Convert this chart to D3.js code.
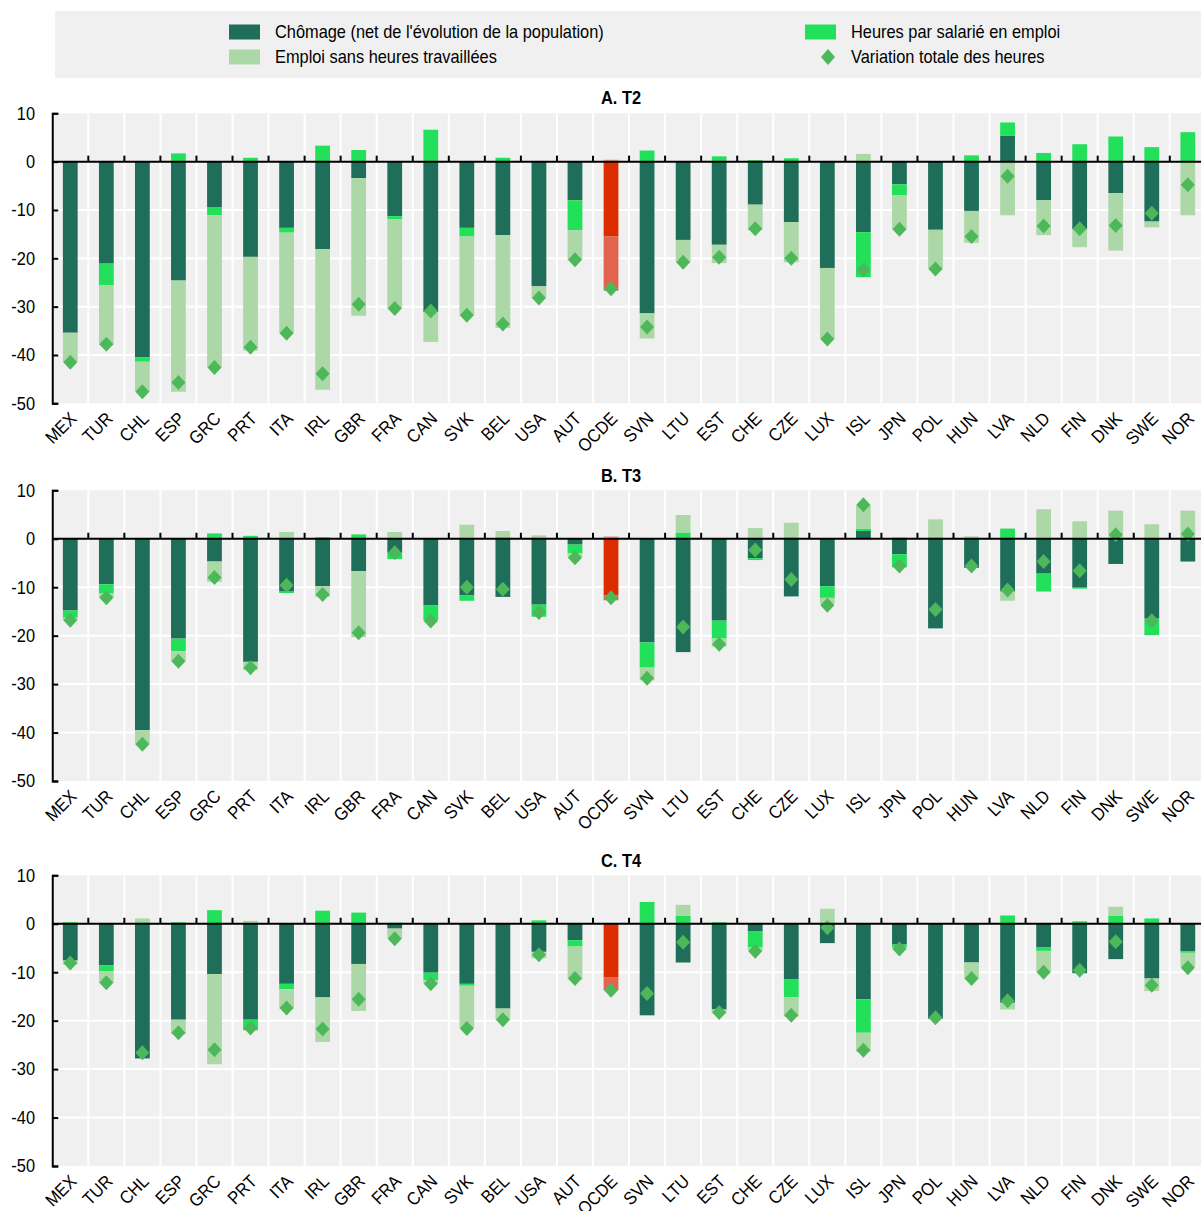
<!DOCTYPE html>
<html lang="fr">
<head>
<meta charset="utf-8">
<script src="https://cdn.jsdelivr.net/npm/d3@7"></script>
<style>
  html, body { margin: 0; padding: 0; background: #ffffff; }
  svg { display: block; }
  text { font-family: "Liberation Sans Narrow", "Arial Narrow", "Liberation Sans", sans-serif; fill: #000; }
</style>
</head>
<body>
<svg id="chart" width="1201" height="1211"></svg>
<script>
// Pays (même ordre dans les trois panneaux)
const countries = ["MEX","TUR","CHL","ESP","GRC","PRT","ITA","IRL","GBR","FRA","CAN","SVK","BEL","USA","AUT","OCDE",
                   "SVN","LTU","EST","CHE","CZE","LUX","ISL","JPN","POL","HUN","LVA","NLD","FIN","DNK","SWE","NOR"];

const seriesNames = ["Chômage (net de l'évolution de la population)", "Heures par salarié en emploi",
                     "Emploi sans heures travaillées", "Variation totale des heures"];
const panelTitles = ["A. T2", "B. T3", "C. T4"];
const yTicks = [10, 0, -10, -20, -30, -40, -50];

// A. T2
const chomageT2 = [-35.4,-21.1,-40.5,-24.6,-9.5,-19.7,-13.7,-18.1,-3.4,-11.3,-31.1,-13.7,-15.2,-25.8,-8.0,-15.5,
                   -31.4,-16.2,-17.2,-8.9,-12.5,-22.0,-14.6,-4.7,-14.1,-10.2,5.4,-8.0,-14.0,-6.5,-12.4,0];
const heuresT2  = [0,-4.5,-0.9,1.7,-1.6,0.8,-1.0,3.3,2.4,-0.6,6.6,-1.8,0.8,0,-6.2,0.4,
                   2.3,0,1.1,0.3,0.7,0,-9.3,-2.3,0,1.3,2.7,1.8,3.6,5.2,3.0,6.1];
const emploiT2  = [-6.1,-12.4,-6.3,-23.0,-31.5,-19.4,-20.8,-29.1,-28.5,-18.5,-6.2,-16.3,-19.2,-2.4,-6.1,-11.2,
                   -5.2,-4.6,-3.8,-5.3,-8.3,-14.7,1.6,-7.0,-8.1,-6.6,-11.1,-7.2,-3.7,-11.9,-1.2,-11.1];
const totalT2   = [-41.5,-37.8,-47.6,-45.7,-42.6,-38.4,-35.5,-43.9,-29.5,-30.4,-30.9,-31.8,-33.6,-28.2,-20.3,-26.3,
                   -34.2,-20.8,-19.8,-13.9,-20.0,-36.7,-22.4,-14.0,-22.2,-15.5,-3.0,-13.3,-13.9,-13.2,-10.7,-4.8];

// B. T3
const chomageT3 = [-14.8,-9.4,-39.5,-20.6,-4.7,-25.4,-10.9,-9.8,-6.7,-2.9,-13.7,-11.7,-12.0,-13.6,-1.2,-11.7,
                   -21.4,-23.4,-16.9,-4.0,-11.9,-9.8,1.6,-3.2,-18.5,-6.0,-10.9,-7.2,-10.1,-5.2,-16.5,-4.7];
const heuresT3  = [-1.5,-1.8,0,-2.6,1.1,0.6,-0.3,0.3,0.9,-1.3,-3.1,-1.1,0.3,-2.5,-1.8,0.5,
                   -5.2,1.3,-3.7,-0.4,0.3,-2.4,0.5,-2.7,0.3,0,2.1,-3.7,-0.2,0,-3.4,0];
const emploiT3  = [-0.5,-1.0,-2.9,-2.1,-4.2,-1.7,1.4,-2.2,-13.6,1.4,-0.2,2.9,1.3,0.7,-0.8,-1.0,
                   -2.6,3.6,-1.7,2.2,3.0,-1.2,4.8,0.3,3.7,0.5,-1.9,6.1,3.6,5.8,3.0,5.8];
const totalT3   = [-16.8,-12.2,-42.4,-25.3,-8.0,-26.6,-9.6,-11.5,-19.4,-2.9,-17.0,-10.0,-10.4,-15.2,-3.9,-12.2,
                   -28.8,-18.2,-21.8,-2.3,-8.4,-13.7,7.0,-5.6,-14.6,-5.6,-10.6,-4.7,-6.6,0.8,-16.9,1.0];

// C. T4
const chomageT4 = [-7.6,-8.6,-27.8,-19.8,-10.4,-19.8,-12.4,-15.2,-8.3,-1.0,-10.1,-12.4,-17.5,-5.8,-3.4,-11.0,
                   -18.9,-8.0,-17.7,-1.6,-11.5,-4.0,-15.6,-4.3,-19.6,-8.0,-16.3,-4.9,-10.2,-7.3,-11.3,-5.7];
const heuresT4  = [0.3,-1.2,0.3,0.3,2.8,-2.2,-1.1,2.7,2.3,0.2,-1.6,-0.4,0,0.7,-1.3,0.1,
                   4.5,1.7,0.3,-3.2,-3.7,0,-6.9,-0.5,0,0,1.7,-0.7,0.5,1.7,1.1,-0.3];
const emploiT4  = [-0.8,-2.4,0.8,-3.0,-18.6,0.6,-4.0,-9.2,-9.7,-2.0,-0.7,-8.8,-2.4,-1.3,-6.8,-2.7,
                   0,2.2,-0.8,-0.7,-4.0,3.1,-3.9,-0.4,0,-3.3,-1.4,-4.4,0,1.8,-2.6,-2.9];
const totalT4   = [-8.1,-12.2,-26.6,-22.5,-26.0,-21.5,-17.4,-21.7,-15.6,-3.1,-12.4,-21.6,-19.8,-6.4,-11.3,-13.7,
                   -14.4,-3.8,-18.3,-5.7,-18.9,-0.8,-26.1,-5.2,-19.4,-11.3,-15.9,-10.0,-9.6,-3.7,-12.7,-9.1];

const panels = [
  { title: panelTitles[0], chomage: chomageT2, heures: heuresT2, emploi: emploiT2, total: totalT2, top: 113.3, bottom: 403.3, titleY: 104 },
  { title: panelTitles[1], chomage: chomageT3, heures: heuresT3, emploi: emploiT3, total: totalT3, top: 490.3, bottom: 781,   titleY: 482 },
  { title: panelTitles[2], chomage: chomageT4, heures: heuresT4, emploi: emploiT4, total: totalT4, top: 875.3, bottom: 1166,  titleY: 867 }
];

const keys = ["chomage", "heures", "emploi"];
const colors = { chomage: "#1f6e5a", heures: "#22e05a", emploi: "#acd8a8" };
const colorsOECD = { chomage: "#dc2d00", heures: "#f2a28c", emploi: "#e2644e" };
const diamondColor = "#4cb85a";
const bgColor = "#f0f0f0";
const NARROW = 0.91;   // condensed look for all labels

const svg = d3.select("#chart");

// Helper: horizontally condensed text placed at (x, y)
function narrowText(parent, x, y, str, opts = {}) {
  const g = parent.append("g").attr("transform", `translate(${x},${y})${opts.rotate ? ` rotate(${opts.rotate})` : ""} scale(${NARROW},1)`);
  const t = g.append("text").attr("font-size", opts.size || 18).text(str);
  if (opts.anchor) t.attr("text-anchor", opts.anchor);
  if (opts.dy) t.attr("dy", opts.dy);
  if (opts.bold) t.attr("font-weight", "bold");
  return t;
}

// Légende
const legend = svg.append("g");
legend.append("rect").attr("x", 55).attr("y", 11).attr("width", 1146).attr("height", 67).attr("fill", bgColor);
const legendItems = [
  { label: seriesNames[0], x: 229, y: 32, type: "rect", color: colors.chomage },
  { label: seriesNames[2], x: 229, y: 57, type: "rect", color: colors.emploi },
  { label: seriesNames[1], x: 805, y: 32, type: "rect", color: colors.heures },
  { label: seriesNames[3], x: 805, y: 57, type: "diamond", color: diamondColor }
];
legendItems.forEach(it => {
  if (it.type === "rect") {
    legend.append("rect").attr("x", it.x).attr("y", it.y - 7.5).attr("width", 31).attr("height", 15).attr("fill", it.color);
  } else {
    legend.append("path")
      .attr("d", "M0,-8L7,0L0,8L-7,0Z")
      .attr("transform", `translate(${it.x + 23},${it.y})`)
      .attr("fill", it.color);
  }
  narrowText(legend, it.x + 46, it.y, it.label, { dy: "0.35em" });
});

const x = d3.scaleBand().domain(countries).range([52.25, 52.25 + 32 * 36.05]).paddingInner(0).paddingOuter(0);
const barW = x.bandwidth() * 0.41;

const stack = d3.stack().keys(keys).offset(d3.stackOffsetDiverging).order(d3.stackOrderNone);

panels.forEach(p => {
  const g = svg.append("g");
  const y = d3.scaleLinear().domain([-50, 10]).range([p.bottom, p.top]);
  const rows = countries.map((c, i) => ({ country: c, chomage: p.chomage[i], heures: p.heures[i], emploi: p.emploi[i], total: p.total[i] }));
  const stacked = stack(rows);
  const [x0, x1] = x.range();

  // Fond et grille
  g.append("rect").attr("x", x0).attr("y", y(10)).attr("width", x1 - x0).attr("height", y(-50) - y(10)).attr("fill", bgColor);
  g.selectAll("line.hgrid").data(yTicks.filter(t => t !== 0 && t !== 10 && t !== -50)).join("line")
    .attr("x1", x0).attr("x2", x1).attr("y1", d => y(d)).attr("y2", d => y(d))
    .attr("stroke", "#fff").attr("stroke-width", 2);
  g.selectAll("line.vgrid").data(countries.slice(1)).join("line")
    .attr("x1", d => x(d)).attr("x2", d => x(d)).attr("y1", y(10)).attr("y2", y(-50))
    .attr("stroke", "#fff").attr("stroke-width", 2);

  // Titre
  narrowText(g, 621, p.titleY, p.title, { anchor: "middle", bold: true });

  // Barres empilées
  stacked.forEach(layer => {
    g.selectAll(null).data(layer).join("rect")
      .attr("x", d => x(d.data.country) + (x.bandwidth() - barW) / 2)
      .attr("width", barW)
      .attr("y", d => y(Math.max(d[0], d[1])))
      .attr("height", d => Math.abs(y(d[0]) - y(d[1])))
      .attr("fill", d => d.data.country === "OCDE" ? colorsOECD[layer.key] : colors[layer.key]);
  });

  // Variation totale
  g.selectAll("path.tot").data(rows).join("path")
    .attr("d", "M0,-7.5L7,0L0,7.5L-7,0Z")
    .attr("transform", d => `translate(${x(d.country) + x.bandwidth() / 2},${y(d.total)})`)
    .attr("fill", diamondColor);

  // Axe des abscisses à zéro
  g.append("line").attr("x1", x0).attr("x2", x1).attr("y1", y(0)).attr("y2", y(0))
    .attr("stroke", "#000").attr("stroke-width", 2);
  g.selectAll("line.xtick").data(countries.slice(1)).join("line")
    .attr("x1", d => x(d)).attr("x2", d => x(d)).attr("y1", y(0)).attr("y2", y(0) - 6)
    .attr("stroke", "#000").attr("stroke-width", 2);

  // Axe des ordonnées
  const yAxis = d3.axisLeft(y).tickValues(yTicks).tickSize(-6).tickFormat(() => "");
  const ya = g.append("g").attr("transform", `translate(${x0},0)`).call(yAxis);
  ya.select(".domain").attr("stroke", "#000").attr("stroke-width", 2);
  ya.selectAll(".tick line").attr("stroke", "#000").attr("stroke-width", 2);
  yTicks.forEach(t => narrowText(g, 35, y(t), String(t), { anchor: "end", dy: "0.35em" }));

  // Libellés des pays
  countries.forEach(c => {
    narrowText(g, x(c) + x.bandwidth() / 2 + 3, p.bottom + 12, c, { anchor: "end", dy: "0.35em", rotate: -45 });
  });
});
</script>
</body>
</html>
